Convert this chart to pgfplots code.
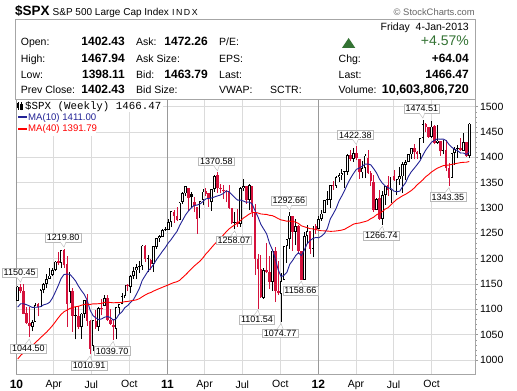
\documentclass[border=0pt]{standalone}
\usepackage{pgfplots}
\pgfplotsset{compat=1.18}
\usepackage{pgfplotstable}
\usepackage{fontspec}
\setmainfont{Liberation Sans}
\setmonofont{Liberation Mono}
\definecolor{cred}{RGB}{212,18,60}
\definecolor{mablue}{RGB}{35,35,150}
\definecolor{mared}{RGB}{255,0,0}
\definecolor{upgreen}{RGB}{52,115,52}
\definecolor{labc}{RGB}{185,185,185}
\newcommand{\fs}[1]{\fontsize{#1}{#1}\selectfont}
% hollow black candles (close > open, close > previous close)
\pgfplotstableread{
k o h l c
0 1116.6 1145.4 1116.6 1145.0
5 1065.5 1078.5 1056.5 1075.5
6 1076.0 1112.4 1076.0 1109.2
8 1105.4 1139.4 1105.4 1138.7
9 1138.4 1151.3 1131.4 1150.0
10 1150.0 1169.2 1141.5 1159.9
11 1160.0 1180.7 1159.3 1166.6
12 1167.7 1181.4 1165.4 1178.1
13 1178.0 1194.7 1175.0 1194.4
15 1192.1 1217.2 1181.6 1217.3
18 1111.8 1173.6 1111.8 1135.7
20 1087.3 1104.3 1040.8 1089.4
22 1064.6 1093.2 1042.2 1091.6
23 1091.2 1119.1 1083.7 1117.5
26 1028.0 1078.2 1018.4 1078.0
28 1066.0 1103.7 1056.9 1102.7
30 1107.5 1128.8 1105.9 1121.6
34 1062.0 1105.1 1040.9 1104.5
35 1102.6 1110.9 1091.1 1109.6
36 1110.0 1131.5 1110.0 1125.6
37 1126.0 1148.9 1122.3 1148.7
39 1145.0 1167.7 1131.9 1165.2
40 1165.3 1184.4 1160.0 1176.2
41 1176.8 1189.4 1159.7 1183.1
43 1185.7 1227.1 1177.7 1225.9
45 1199.7 1207.4 1173.0 1199.7
47 1189.1 1225.6 1174.1 1224.7
48 1223.2 1240.4 1219.1 1240.4
49 1240.3 1246.7 1232.9 1243.9
50 1243.5 1259.4 1243.0 1256.8
51 1256.8 1262.6 1254.3 1257.6
52 1257.6 1278.2 1257.6 1271.5
53 1272.0 1293.2 1262.7 1293.2
56 1276.5 1311.0 1276.5 1310.9
57 1311.8 1330.8 1308.8 1329.2
58 1328.7 1344.1 1324.6 1343.0
63 1279.5 1314.8 1279.5 1313.8
64 1315.5 1337.9 1305.3 1332.4
67 1311.8 1337.5 1294.7 1337.4
68 1337.4 1364.6 1331.9 1363.6
75 1271.3 1292.5 1258.1 1271.5
77 1268.4 1341.0 1262.7 1339.7
78 1339.6 1356.5 1333.5 1343.8
80 1315.9 1347.0 1295.9 1345.0
85 1123.2 1181.4 1121.1 1176.8
88 1153.5 1220.1 1136.2 1216.0
91 1131.2 1171.4 1074.8 1155.5
92 1158.2 1224.6 1158.2 1224.6
93 1224.5 1239.0 1191.5 1238.3
94 1238.7 1292.7 1220.1 1285.1
96 1253.2 1277.6 1226.6 1263.9
99 1158.7 1253.1 1158.7 1244.3
100 1244.3 1267.1 1231.5 1255.2
102 1219.7 1265.4 1202.4 1265.3
104 1258.9 1284.6 1258.9 1277.8
105 1277.8 1296.8 1274.6 1289.1
106 1290.0 1315.5 1290.2 1315.4
107 1315.3 1333.5 1306.1 1316.3
108 1316.2 1345.3 1300.5 1344.9
110 1343.1 1363.4 1340.0 1361.2
111 1361.2 1368.9 1352.3 1365.7
112 1365.2 1378.0 1354.9 1369.6
113 1370.8 1374.0 1340.0 1370.9
114 1371.9 1406.1 1365.6 1404.2
116 1397.1 1419.2 1391.6 1408.5
119 1370.3 1392.8 1358.5 1378.5
120 1378.5 1406.6 1358.8 1403.4
124 1295.7 1320.7 1295.7 1317.8
126 1278.0 1334.5 1266.7 1325.7
127 1325.7 1343.3 1306.6 1342.8
129 1334.8 1362.2 1310.6 1362.2
131 1354.7 1356.6 1325.4 1356.8
132 1356.5 1380.4 1345.1 1362.7
133 1362.3 1391.7 1329.2 1386.0
134 1385.9 1394.2 1354.7 1391.0
135 1391.0 1406.0 1391.0 1405.9
136 1405.9 1418.7 1397.3 1418.2
139 1406.5 1437.9 1396.6 1437.9
140 1438.0 1474.5 1429.1 1465.8
143 1440.9 1471.0 1439.0 1460.9
145 1428.8 1464.0 1427.2 1433.2
147 1412.0 1434.3 1406.0 1414.2
150 1359.9 1409.2 1359.9 1409.2
151 1409.2 1419.7 1385.4 1416.2
152 1416.3 1423.7 1398.2 1418.1
154 1413.5 1448.0 1412.7 1430.2
156 1402.4 1467.9 1398.1 1466.5
}\hollowblack
% filled black candles (close < open, close > previous close)
\pgfplotstableread{
k o h l c
42 1184.7 1196.1 1171.7 1183.3
60 1328.6 1332.3 1299.6 1321.2
}\filledblack
% filled red candles (close < open, close < previous close)
\pgfplotstableread{
k o h l c
1 1145.0 1150.5 1131.4 1136.0
2 1136.0 1150.4 1090.2 1091.8
3 1092.0 1103.7 1071.6 1073.9
4 1073.9 1104.7 1044.5 1066.2
7 1110.0 1112.3 1086.0 1104.5
14 1194.9 1213.9 1186.8 1192.1
16 1217.0 1219.8 1181.4 1186.7
17 1188.6 1205.1 1065.8 1110.9
19 1136.5 1141.9 1055.9 1087.7
21 1087.3 1105.7 1060.5 1064.9
24 1117.7 1131.2 1067.9 1076.8
25 1076.4 1079.8 1010.9 1022.6
27 1077.2 1099.1 1061.4 1064.9
29 1102.0 1121.0 1088.0 1101.6
31 1122.0 1129.2 1076.6 1079.3
32 1079.0 1100.1 1069.4 1071.7
33 1069.0 1081.3 1039.7 1064.6
38 1148.6 1150.3 1135.7 1146.2
44 1226.0 1227.4 1194.1 1199.2
46 1198.0 1198.9 1178.0 1189.4
54 1293.0 1296.1 1271.3 1283.4
55 1283.3 1301.3 1275.1 1276.3
59 1340.4 1340.4 1294.3 1319.9
61 1311.7 1322.4 1292.0 1304.3
62 1301.2 1301.2 1249.1 1279.2
65 1332.7 1339.5 1322.9 1328.2
66 1329.2 1329.2 1302.8 1319.7
69 1365.2 1370.6 1329.2 1340.2
70 1340.2 1346.8 1329.6 1337.8
71 1334.0 1345.1 1318.5 1333.3
72 1333.0 1334.6 1311.8 1331.1
73 1331.1 1345.2 1297.9 1300.2
74 1300.3 1300.3 1268.6 1271.0
76 1272.0 1298.6 1262.9 1268.5
79 1343.3 1343.3 1308.3 1316.1
81 1344.3 1344.3 1282.9 1292.3
82 1292.6 1307.4 1168.1 1199.4
83 1198.5 1208.5 1101.5 1178.8
84 1179.2 1208.1 1122.1 1123.5
86 1176.7 1230.7 1170.8 1174.0
87 1174.0 1204.4 1140.1 1154.2
89 1216.0 1222.9 1114.2 1136.4
90 1136.9 1195.9 1129.0 1131.4
95 1285.0 1285.0 1215.4 1253.2
97 1263.9 1267.0 1209.4 1215.7
98 1215.6 1215.6 1158.7 1158.7
101 1255.0 1255.0 1209.5 1219.7
103 1265.4 1269.4 1248.6 1257.6
109 1344.3 1354.3 1335.6 1342.6
115 1404.2 1414.0 1391.9 1397.1
117 1408.5 1422.4 1393.9 1398.1
118 1397.5 1397.5 1357.4 1370.3
121 1397.9 1415.3 1368.0 1369.1
122 1368.8 1373.9 1343.1 1353.4
123 1351.9 1365.9 1292.0 1295.2
125 1318.9 1334.9 1277.3 1278.0
128 1344.8 1363.5 1324.4 1335.0
130 1362.3 1374.8 1353.1 1354.7
137 1418.1 1426.7 1396.1 1411.1
138 1411.1 1413.5 1397.4 1406.6
141 1465.4 1467.1 1450.0 1460.2
142 1460.1 1460.7 1438.6 1440.7
144 1461.4 1464.0 1425.5 1428.6
146 1433.2 1433.2 1403.3 1411.9
148 1414.0 1433.4 1373.0 1379.9
149 1379.9 1388.8 1343.4 1359.9
153 1418.1 1438.6 1411.9 1413.6
155 1430.1 1430.1 1401.6 1402.4
}\filledred
% moving averages
\pgfplotstableread{
k m10 m40
0 1104.4 1002.0
1 1111.1 1009.0
2 1111.0 1014.5
3 1109.3 1019.7
4 1106.8 1024.4
5 1103.8 1028.1
6 1104.1 1033.8
7 1104.3 1039.2
8 1105.6 1044.7
9 1109.1 1049.9
10 1110.6 1055.3
11 1113.7 1061.4
12 1122.3 1067.9
13 1134.3 1075.4
14 1146.9 1083.2
15 1161.0 1090.1
16 1168.8 1095.3
17 1169.5 1098.4
18 1169.2 1101.6
19 1163.0 1103.7
20 1155.9 1105.2
21 1145.7 1106.1
22 1137.1 1108.0
23 1129.5 1109.9
24 1118.0 1110.1
25 1098.6 1109.6
26 1087.7 1110.9
27 1083.1 1110.8
28 1079.8 1111.2
29 1081.2 1111.7
30 1084.5 1113.9
31 1085.9 1114.1
32 1083.9 1113.6
33 1078.6 1112.9
34 1081.4 1113.3
35 1090.1 1113.4
36 1094.9 1113.9
37 1103.3 1115.1
38 1107.6 1115.6
39 1113.9 1116.8
40 1119.3 1117.6
41 1129.7 1118.8
42 1140.8 1121.0
43 1156.9 1124.8
44 1166.3 1128.2
45 1175.3 1131.3
46 1181.6 1133.3
47 1189.2 1136.3
48 1198.6 1138.8
49 1206.5 1141.2
50 1214.6 1143.6
51 1222.1 1145.9
52 1231.0 1148.2
53 1237.7 1150.7
54 1246.1 1153.0
55 1253.7 1154.4
56 1265.9 1157.5
57 1276.3 1163.0
58 1286.6 1168.2
59 1294.2 1174.0
60 1300.6 1179.8
61 1305.2 1185.7
62 1305.9 1190.4
63 1308.0 1195.3
64 1312.9 1201.7
65 1318.1 1209.3
66 1319.0 1215.4
67 1319.8 1222.2
68 1321.9 1228.7
69 1323.9 1234.6
70 1325.6 1240.0
71 1328.5 1246.4
72 1333.7 1252.9
73 1332.3 1258.7
74 1326.2 1262.9
75 1320.6 1266.9
76 1315.4 1270.5
77 1315.7 1275.3
78 1313.7 1280.2
79 1311.3 1284.0
80 1312.0 1288.2
81 1307.9 1290.9
82 1294.7 1291.3
83 1282.6 1290.2
84 1267.9 1288.3
85 1258.4 1287.7
86 1249.0 1287.3
87 1230.4 1285.6
88 1217.6 1285.0
89 1199.6 1282.3
90 1178.2 1279.1
91 1164.5 1276.5
92 1167.1 1275.4
93 1173.0 1274.0
94 1189.1 1274.0
95 1196.7 1273.5
96 1205.7 1272.3
97 1211.9 1269.5
98 1206.2 1264.9
99 1217.0 1263.0
100 1229.4 1261.3
101 1235.9 1259.2
102 1239.9 1258.9
103 1241.9 1257.5
104 1241.2 1256.1
105 1244.8 1255.1
106 1249.9 1255.0
107 1259.9 1254.5
108 1278.5 1254.0
109 1288.4 1254.1
110 1299.0 1254.7
111 1313.6 1255.5
112 1324.1 1256.5
113 1335.4 1258.2
114 1348.0 1261.6
115 1358.8 1264.7
116 1368.1 1268.2
117 1376.3 1269.6
118 1378.8 1270.3
119 1382.4 1271.9
120 1386.6 1273.3
121 1386.9 1275.2
122 1385.2 1279.1
123 1377.6 1282.0
124 1369.0 1286.8
125 1357.1 1289.4
126 1348.9 1293.2
127 1343.4 1297.9
128 1339.9 1300.9
129 1338.2 1306.5
130 1333.4 1312.1
131 1332.2 1317.2
132 1333.2 1320.6
133 1342.3 1324.3
134 1349.6 1327.0
135 1362.4 1330.8
136 1371.6 1334.6
137 1378.4 1339.5
138 1385.6 1345.7
139 1393.2 1350.6
140 1404.3 1355.8
141 1414.6 1361.8
142 1422.4 1366.2
143 1429.9 1371.3
144 1433.7 1375.1
145 1436.4 1378.7
146 1435.8 1381.1
147 1436.1 1383.6
148 1433.4 1384.4
149 1425.6 1384.9
150 1419.9 1386.1
151 1415.5 1387.3
152 1413.2 1388.5
153 1408.5 1389.6
154 1408.6 1390.2
155 1405.5 1390.4
156 1411.0 1391.8
}\mavg

\tikzset{
  lab/.style={draw=labc, fill=white, font=\fs{9}, inner xsep=1.5pt, inner ysep=1.2pt},
}
\newcommand{\hilab}[2]{%
  \node[lab] (n#1) at ([xshift=-1pt,yshift=11pt]#1) {#2};
  \draw[labc, fill=white] ([xshift=-3pt,yshift=0.4pt]n#1.south) -- ([yshift=1.5pt]#1) -- ([xshift=3pt,yshift=0.4pt]n#1.south);
}
\newcommand{\lolab}[2]{%
  \node[lab] (n#1) at ([xshift=-1pt,yshift=-11pt]#1) {#2};
  \draw[labc, fill=white] ([xshift=-3pt,yshift=-0.4pt]n#1.north) -- ([yshift=-1.5pt]#1) -- ([xshift=3pt,yshift=-0.4pt]n#1.north);
}

\begin{document}
\begin{tikzpicture}[x=1pt,y=1pt]
\useasboundingbox (0,0) rectangle (517,391);
\fill[white] (0,0) rectangle (517,391);

\begin{axis}[
  at={(16pt,17pt)}, anchor=south west, scale only axis,
  width=459pt, height=275pt,
  xmin=-0.6, xmax=158, ymin=972.4, ymax=1515.2,
  axis line style={draw=black!35, line width=0.8pt},
  xtick={12.43,25.43,38.57,64.57,77.57,90.71,116.86,129.86,143.0},
  xticklabels={Apr,Jul,Oct,Apr,Jul,Oct,Apr,Jul,Oct},
  extra x ticks={-0.429,51.71,103.86},
  extra x tick labels={10,11,12},
  extra x tick style={grid=major, major grid style={draw=black!40, line width=0.8pt},
     xticklabel style={font=\fs{12}\bfseries}},
  x tick style={draw=none},
  ytick={1000,1050,...,1500},
  minor y tick num=4,
  ytick pos=right, yticklabel pos=right,
  y tick style={draw=black!40, line width=0.5pt},
  tick align=outside,
  major tick length=3pt, minor tick length=1.5pt,
  xmajorgrids, ymajorgrids,
  major grid style={draw=black!14, line width=0.8pt},
  ticklabel style={font=\fs{10.5}},
  yticklabel style={xshift=-1.5pt},
  /pgf/number format/.cd, fixed, 1000 sep={}, assume math mode=true,
]
% wicks (low to high)
\addplot[black, line width=0.8pt, mark=none,
  quiver={u=0, v=\thisrow{h}-\thisrow{l}}] table[x=k, y=l] {\hollowblack};
\addplot[black, line width=0.8pt, mark=none,
  quiver={u=0, v=\thisrow{h}-\thisrow{l}}] table[x=k, y=l] {\filledblack};
\addplot[cred, line width=0.8pt, mark=none,
  quiver={u=0, v=\thisrow{h}-\thisrow{l}}] table[x=k, y=l] {\filledred};
% bodies
\addplot[black, line width=2.6pt, mark=none,
  quiver={u=0, v={max(abs(\thisrow{c}-\thisrow{o}),2)}}]
  table[x=k, y expr={min(\thisrow{o},\thisrow{c})}] {\hollowblack};
\addplot[black, line width=2.6pt, mark=none,
  quiver={u=0, v={max(abs(\thisrow{c}-\thisrow{o}),2)}}]
  table[x=k, y expr={min(\thisrow{o},\thisrow{c})}] {\filledblack};
\addplot[cred, line width=2.6pt, mark=none,
  quiver={u=0, v={max(abs(\thisrow{c}-\thisrow{o}),2)}}]
  table[x=k, y expr={min(\thisrow{o},\thisrow{c})}] {\filledred};
% hollow interior
\addplot[white, line width=0.9pt, mark=none,
  quiver={u=0, v={max(abs(\thisrow{c}-\thisrow{o})-3.2,0)}}]
  table[x=k, y expr={min(\thisrow{o},\thisrow{c})+1.6}] {\hollowblack};
% moving averages
\addplot[mablue, line width=0.9pt, mark=none] table[x=k, y=m10] {\mavg};
\addplot[mared, line width=0.9pt, mark=none] table[x=k, y=m40] {\mavg};

\coordinate (a1) at (axis cs:1,1150.45);
\coordinate (a2) at (axis cs:4,1044.50);
\coordinate (a3) at (axis cs:16,1219.80);
\coordinate (a4) at (axis cs:25,1010.91);
\coordinate (a5) at (axis cs:33,1039.70);
\coordinate (a6) at (axis cs:69,1370.58);
\coordinate (a7) at (axis cs:75,1258.07);
\coordinate (a8) at (axis cs:83,1101.54);
\coordinate (a9) at (axis cs:91,1074.77);
\coordinate (a10) at (axis cs:94,1292.66);
\coordinate (a11) at (axis cs:98,1158.66);
\coordinate (a12) at (axis cs:117,1422.38);
\coordinate (a13) at (axis cs:126,1266.74);
\coordinate (a14) at (axis cs:140,1474.51);
\coordinate (a15) at (axis cs:149,1343.35);
\end{axis}

% annotations
\hilab{a1}{1150.45}
\lolab{a2}{1044.50}
\hilab{a3}{1219.80}
\lolab{a4}{1010.91}
\lolab{a5}{1039.70}
\hilab{a6}{1370.58}
\lolab{a7}{1258.07}
\lolab{a8}{1101.54}
\lolab{a9}{1074.77}
\hilab{a10}{1292.66}
\lolab{a11}{1158.66}
\hilab{a12}{1422.38}
\lolab{a13}{1266.74}
\hilab{a14}{1474.51}
\lolab{a15}{1343.35}

% legend
\fill[white] (16.5,278.5) rectangle (163,291.5);
\fill[white] (16.5,255) rectangle (96,278.5);
\draw[line width=0.6pt] (18,281) -- (18,289) (21.5,280.5) -- (21.5,288.5);
\fill (17,283) rectangle (19,287.5);
\draw[line width=0.5pt] (20.7,282) rectangle (22.3,287);
\node[anchor=mid west, inner sep=0pt] at (25,284.3) {\ttfamily\fs{10.8}\$SPX (Weekly) 1466.47};
\draw[mablue, line width=2pt] (18,273.7) -- (27,273.7);
\node[anchor=mid west, inner sep=0pt, text=mablue] at (28,273.4) {\fs{9.6}MA(10) 1411.00};
\draw[mared, line width=2pt] (18,262) -- (27,262);
\node[anchor=mid west, inner sep=0pt, text=mared] at (28,261.7) {\fs{9.6}MA(40) 1391.79};

% header
\node[anchor=mid west, inner sep=0pt] at (15,378) {\fs{13.5}\bfseries \$SPX};
\node[anchor=mid west, inner sep=0pt] at (52.5,378) {\fs{10}S\&P 500 Large Cap Index};
\node[anchor=mid west, inner sep=0pt] at (172,378) {\fs{8.8}I\,N\,D\,X};
\node[anchor=mid east, inner sep=0pt, text=black!60] at (475,378) {\fs{9.4}\textcopyright\ StockCharts.com};
\draw[black!35, line width=0.8pt] (15.5,371.5) rectangle (475,292);

\node[anchor=mid east, inner sep=0pt] at (469,363) {\fs{10.5}Friday\ \ 4-Jan-2013};

\node[anchor=mid west, inner sep=0pt] at (20.7,348) {\fs{10.5}Open:};
\node[anchor=mid west, inner sep=0pt] at (20.7,331) {\fs{10.5}High:};
\node[anchor=mid west, inner sep=0pt] at (20.7,315) {\fs{10.5}Low:};
\node[anchor=mid west, inner sep=0pt] at (20.7,300) {\fs{10.5}Prev Close:};
\node[anchor=mid east, inner sep=0pt] at (125,348) {\fs{12}\bfseries 1402.43};
\node[anchor=mid east, inner sep=0pt] at (125,331) {\fs{12}\bfseries 1467.94};
\node[anchor=mid east, inner sep=0pt] at (125,315) {\fs{12}\bfseries 1398.11};
\node[anchor=mid east, inner sep=0pt] at (125,300) {\fs{12}\bfseries 1402.43};

\node[anchor=mid west, inner sep=0pt] at (136,348) {\fs{10.5}Ask:};
\node[anchor=mid west, inner sep=0pt] at (136,331) {\fs{10.5}Ask Size:};
\node[anchor=mid west, inner sep=0pt] at (136,315) {\fs{10.5}Bid:};
\node[anchor=mid west, inner sep=0pt] at (136,300) {\fs{10.5}Bid Size:};
\node[anchor=mid east, inner sep=0pt] at (208,348) {\fs{12}\bfseries 1472.26};
\node[anchor=mid east, inner sep=0pt] at (208,315) {\fs{12}\bfseries 1463.79};

\node[anchor=mid west, inner sep=0pt] at (219,348) {\fs{10.5}P/E:};
\node[anchor=mid west, inner sep=0pt] at (219,331) {\fs{10.5}EPS:};
\node[anchor=mid west, inner sep=0pt] at (219,315) {\fs{10.5}Last:};
\node[anchor=mid west, inner sep=0pt] at (219,300) {\fs{10.5}VWAP:};
\node[anchor=mid west, inner sep=0pt] at (270,300) {\fs{10.5}SCTR:};

\fill[upgreen] (342,343) -- (355.3,343) -- (348.6,353) -- cycle;
\node[anchor=mid east, inner sep=0pt, text=upgreen] at (469,348) {\fs{14}+4.57\%};
\node[anchor=mid west, inner sep=0pt] at (338.5,331) {\fs{10.5}Chg:};
\node[anchor=mid west, inner sep=0pt] at (338.5,315) {\fs{10.5}Last:};
\node[anchor=mid west, inner sep=0pt] at (338.5,300) {\fs{10.5}Volume:};
\node[anchor=mid east, inner sep=0pt] at (469,331) {\fs{12}\bfseries +64.04};
\node[anchor=mid east, inner sep=0pt] at (469,315) {\fs{12}\bfseries 1466.47};
\node[anchor=mid east, inner sep=0pt] at (469,300) {\fs{12.5}\bfseries 10,603,806,720};
\end{tikzpicture}
\end{document}
